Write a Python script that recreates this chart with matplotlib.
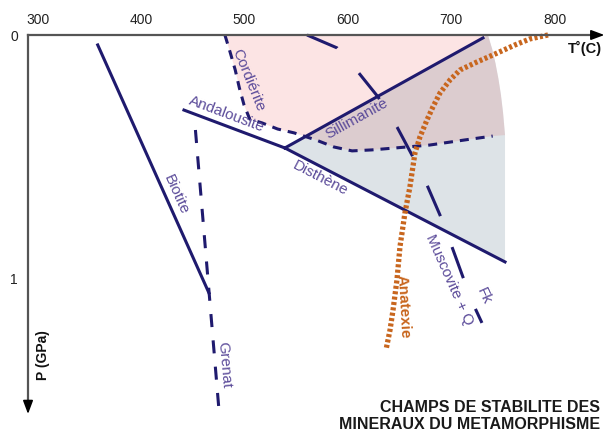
import matplotlib
matplotlib.use("Agg")
import matplotlib.pyplot as plt
from matplotlib.patches import Polygon

plt.rcParams['font.family'] = ['Liberation Sans', 'DejaVu Sans']
plt.rcParams['lines.scale_dashes'] = False

# Temperature ticks (deg C) and pressure ticks (GPa)
t_ticks = [300, 400, 500, 600, 700, 800]
p_ticks = [0, 1]

# Al2SiO5 triple point and the three univariant lines
triple = (541.0, 0.465)
andalousite_T = [443.4, triple[0]]
andalousite_P = [0.309, triple[1]]
sillimanite_T = [triple[0], 732.6]
sillimanite_P = [triple[1], 0.012]
disthene_T = [triple[0], 753.9]
disthene_P = [triple[1], 0.934]

# Biotite-in (solid) and grenat-in (dashed)
biotite_T = [360.0, 467.6]
biotite_P = [0.041, 1.062]
grenat_T = [454.5, 477.0]
grenat_P = [0.391, 1.530]

# Cordierite stability limit (dashed)
cordierite_T = [483.0, 488.0, 493.0, 497.0, 501.5, 507.0, 519.0, 534.0, 550.0,
                571.0, 588.5, 606.0, 625.0, 647.5, 681.0, 715.0, 742.0, 754.0]
cordierite_P = [0.000, 0.070, 0.144, 0.218, 0.288, 0.346, 0.362, 0.387, 0.403,
                0.432, 0.461, 0.477, 0.473, 0.465, 0.453, 0.432, 0.416, 0.412]

# Outer (high temperature) limit of the shaded fields
edge_T = [737.4, 741.5, 744.6, 747.5, 749.9, 752.0, 753.9]
edge_P = [0.000, 0.058, 0.115, 0.180, 0.245, 0.320, 0.412]

# Muscovite + quartz breakdown (long dashes)
muscovite_T = [562.4, 591.4, 611.7, 631.1, 649.5, 663.9, 678.4, 691.0, 702.6,
               713.2, 724.8, 731.6]
muscovite_P = [0.000, 0.053, 0.152, 0.255, 0.379, 0.494, 0.617, 0.741, 0.872,
               0.996, 1.123, 1.185]

# Wet granite solidus (anatexis)
anatexie_T = [795.5, 778.1, 763.5, 742.3, 726.8, 710.4, 700.7, 691.0, 684.2,
              678.4, 671.6, 666.8, 661.9, 657.1, 652.3, 649.4, 645.6, 642.7, 638.8]
anatexie_P = [0.000, 0.016, 0.041, 0.082, 0.111, 0.144, 0.185, 0.239, 0.296,
              0.350, 0.420, 0.486, 0.626, 0.733, 0.872, 1.008, 1.132, 1.214, 1.296]

NAVY = '#1f1a6e'
LABEL = '#5c4c9a'
ORANGE = '#c8661e'
AXIS = '#555555'
PINK = '#fce4e4'
GREY = '#dde3e7'
MAUVE = '#dccccf'

fig = plt.figure(figsize=(6.05, 4.32), dpi=100)
ax = fig.add_axes([0, 0, 1, 1])
ax.set_xlim(265.5, 850.6)
ax.set_ylim(1.634, -0.144)
ax.axis('off')

# Shaded stability fields
pink_pts = list(zip(cordierite_T, cordierite_P)) + list(zip(edge_T[::-1], edge_P[::-1]))
grey_pts = ([triple, (sillimanite_T[-1], sillimanite_P[-1])]
            + list(zip(edge_T, edge_P))
            + [(disthene_T[-1], disthene_P[-1])])
pink = Polygon(pink_pts, closed=True, fc=PINK, ec='none', zorder=1)
ax.add_patch(pink)
ax.add_patch(Polygon(grey_pts, closed=True, fc=GREY, ec='none', zorder=1))
overlap = Polygon(grey_pts, closed=True, fc=MAUVE, ec='none', zorder=1.5)
ax.add_patch(overlap)
overlap.set_clip_path(pink)

lw = 2.2
ax.plot(andalousite_T, andalousite_P, color=NAVY, lw=lw, zorder=3)
ax.plot(sillimanite_T, sillimanite_P, color=NAVY, lw=lw, zorder=3)
ax.plot(disthene_T, disthene_P, color=NAVY, lw=lw, zorder=3)
ax.plot(biotite_T, biotite_P, color=NAVY, lw=lw, zorder=3)
ax.plot(grenat_T, grenat_P, color=NAVY, lw=lw, zorder=3,
        linestyle=(0, (9.4, 9.6)))
ax.plot(cordierite_T[:-1], cordierite_P[:-1], color=NAVY, lw=lw, zorder=3,
        linestyle=(0, (6.5, 5.0)))
ax.plot(muscovite_T, muscovite_P, color=NAVY, lw=lw, zorder=3,
        linestyle=(0, (23.8, 23.8)))
ax.plot(anatexie_T, anatexie_P, color=ORANGE, lw=3.8, zorder=4,
        linestyle=(0, (2.2, 1.7)), solid_capstyle='butt', dash_capstyle='butt')

# Axes drawn as arrows
x_axis_start = (292.6, 0.0)
x_axis_end = (850.0, 0.0)
y_axis_end = (292.6, 1.560)
ax.plot([x_axis_start[0], x_axis_end[0] - 8], [0, 0], color=AXIS, lw=1.6, zorder=5)
ax.plot([x_axis_start[0], x_axis_start[0]], [0, y_axis_end[1] - 0.03],
        color=AXIS, lw=1.6, zorder=5)
ax.annotate('', xy=x_axis_end, xytext=(x_axis_end[0] - 12, 0),
            arrowprops=dict(arrowstyle='-|>,head_length=0.8,head_width=0.3',
                            color='black', lw=1.2, shrinkA=0, shrinkB=0), zorder=6)
ax.annotate('', xy=y_axis_end, xytext=(x_axis_start[0], y_axis_end[1] - 0.05),
            arrowprops=dict(arrowstyle='-|>,head_length=0.8,head_width=0.3',
                            color='black', lw=1.2, shrinkA=0, shrinkB=0), zorder=6)

for t in t_ticks:
    ax.text(t + 2.0, -0.062, str(t), ha='center', va='center', fontsize=10,
            color='#222222')
for p in p_ticks:
    ax.text(279.0, p + 0.008, str(p), ha='center', va='center', fontsize=10,
            color='#222222')

ax.text(848.0, 0.055, 'T˚(C)', ha='right', va='center', fontsize=10.5,
        fontweight='bold', color='#111111')
ax.text(307.5, 1.317, 'P (GPa)', ha='center', va='center', rotation=90,
        fontsize=10, fontweight='bold', color='#111111')

# Mineral labels
fs = 11
ax.text(505.3, 0.185, 'Cordiérite', rotation=-68, ha='center', va='center',
        fontsize=fs, color=LABEL, rotation_mode='anchor', zorder=4)
ax.text(485.0, 0.325, 'Andalousite', rotation=-20.5, ha='center', va='center',
        fontsize=fs, color=LABEL, rotation_mode='anchor', zorder=4)
ax.text(610.7, 0.346, 'Sillimanite', rotation=29, ha='center', va='center',
        fontsize=fs, color=LABEL, rotation_mode='anchor', zorder=4)
ax.text(575.0, 0.588, 'Disthène', rotation=-27.4, ha='center', va='center',
        fontsize=fs, color=LABEL, rotation_mode='anchor', zorder=4)
ax.text(435.8, 0.658, 'Biotite', rotation=-66, ha='center', va='center',
        fontsize=fs, color=LABEL, rotation_mode='anchor', zorder=4)
ax.text(482.1, 1.358, 'Grenat', rotation=-85, ha='center', va='center',
        fontsize=fs, color=LABEL, rotation_mode='anchor', zorder=4)
ax.text(699.7, 1.008, 'Muscovite + Q', rotation=-66, ha='center', va='center',
        fontsize=fs, color=LABEL, rotation_mode='anchor', zorder=4)
ax.text(733.5, 1.074, 'Fk', rotation=-66, ha='center', va='center',
        fontsize=fs, color=LABEL, rotation_mode='anchor', zorder=4)
ax.text(655.6, 1.119, 'Anatexie', rotation=-87, ha='center', va='center',
        fontsize=fs, color=ORANGE, fontweight='bold', rotation_mode='anchor', zorder=5)

ax.text(846.0, 1.535, 'CHAMPS DE STABILITE DES', ha='right', va='center',
        fontsize=11.5, fontweight='bold', color='#1a1a1a')
ax.text(846.0, 1.602, 'MINERAUX DU METAMORPHISME', ha='right', va='center',
        fontsize=11.5, fontweight='bold', color='#1a1a1a')

fig.savefig('out.png', dpi=100)
